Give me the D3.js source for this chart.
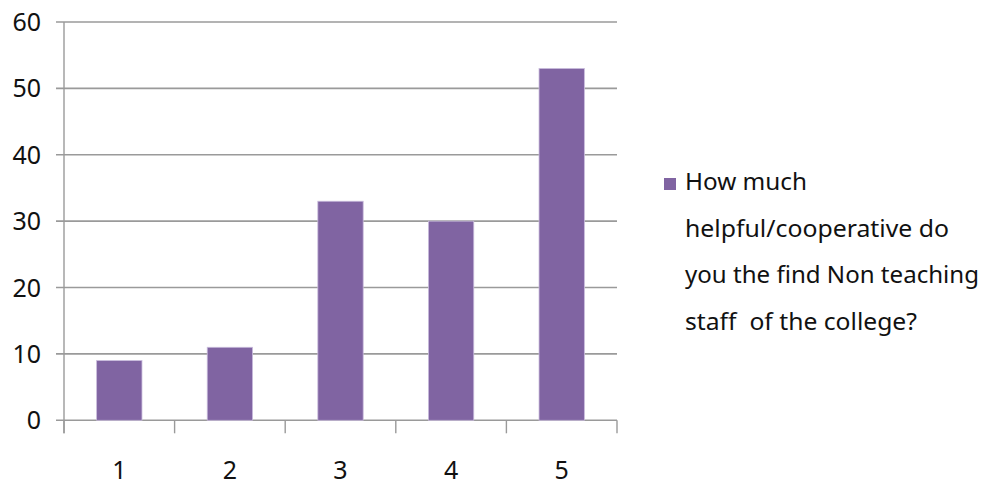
<!DOCTYPE html>
<html><head><meta charset="utf-8">
<script src="https://cdn.jsdelivr.net/npm/d3@7"></script>
<style>body{margin:0;background:#fff}svg{display:block}text{font-family:"Noto Sans",sans-serif;fill:#111;white-space:pre}</style>
</head><body>
<script>
const categories = ["1","2","3","4","5"];
const values = [9, 11, 33, 30, 53];
const yTicks = [0,10,20,30,40,50,60];
const legendLines = ["How much","helpful/cooperative do","you the find Non teaching","staff  of the college?"];
const legendWidths = [122, 264, 294, 232];

const W=989,H=486;
const svg=d3.select("body").append("svg").attr("width",W).attr("height",H);
const x0=64,x1=617,yTop=22,yBot=420.3;
const x=d3.scaleBand().domain(categories).range([x0,x1]).paddingInner(0.59).paddingOuter(0.295);
const y=d3.scaleLinear().domain([0,60]).range([yBot,yTop]);

// gridlines
svg.append("g").selectAll("line").data(yTicks).join("line")
 .attr("x1",56).attr("x2",x1).attr("y1",d=>y(d)).attr("y2",d=>y(d))
 .attr("stroke","#9a9a9a").attr("stroke-width",1.6);
// y axis line
svg.append("line").attr("x1",x0).attr("x2",x0).attr("y1",yTop).attr("y2",yBot+13).attr("stroke","#9a9a9a").attr("stroke-width",1.4);
// x ticks
const xb=d3.scaleLinear().domain([0,5]).range([x0,x1]);
svg.append("g").selectAll("line").data(d3.range(6)).join("line")
 .attr("x1",d=>xb(d)).attr("x2",d=>xb(d)).attr("y1",yBot).attr("y2",yBot+13)
 .attr("stroke","#9a9a9a").attr("stroke-width",1.4);
// y labels
svg.append("g").selectAll("text").data(yTicks).join("text")
 .attr("x",41).attr("y",d=>y(d)+9).attr("text-anchor","end").attr("font-size",25).text(d=>d);
// bars
svg.append("g").selectAll("rect").data(values).join("rect")
 .attr("x",(d,i)=>x(categories[i])).attr("width",x.bandwidth())
 .attr("y",d=>y(d)).attr("height",d=>yBot-y(d))
 .attr("fill","#8064a2").attr("stroke","#c9bcdc").attr("stroke-width",0.8);
// x labels
svg.append("g").selectAll("text").data(categories).join("text")
 .attr("x",d=>x(d)+x.bandwidth()/2).attr("y",479).attr("text-anchor","middle").attr("font-size",25).text(d=>d);
// legend
svg.append("rect").attr("x",664).attr("y",178).attr("width",12).attr("height",12).attr("fill","#8064a2");
svg.append("g").selectAll("text").data(legendLines).join("text")
 .attr("x",685).attr("y",(d,i)=>190+i*46.5).attr("font-size",24)
 .attr("textLength",(d,i)=>legendWidths[i]).attr("lengthAdjust","spacingAndGlyphs")
 .text(d=>d);
</script>
</body></html>
